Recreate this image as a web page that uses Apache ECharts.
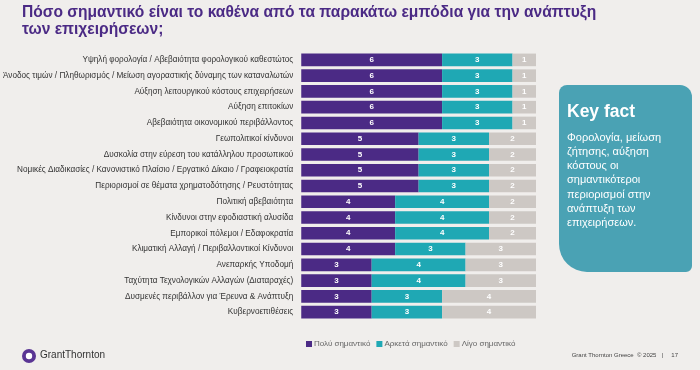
<!DOCTYPE html>
<html>
<head>
<meta charset="utf-8">
<script src="https://cdn.jsdelivr.net/npm/echarts@6/dist/echarts.min.js"></script>
<style>
html,body{margin:0;padding:0;background:#f0eeec;}
#c{width:700px;height:370px;}
</style>
</head>
<body>
<div id="c"></div>
<script>
var categories = [
  "Υψηλή φορολογία / Αβεβαιότητα φορολογικού καθεστώτος",
  "Άνοδος τιμών / Πληθωρισμός / Μείωση αγοραστικής δύναμης των καταναλωτών",
  "Αύξηση λειτουργικού κόστους επιχειρήσεων",
  "Αύξηση επιτοκίων",
  "Αβεβαιότητα οικονομικού περιβάλλοντος",
  "Γεωπολιτικοί κίνδυνοι",
  "Δυσκολία στην εύρεση του κατάλληλου προσωπικού",
  "Νομικές Διαδικασίες / Κανονιστικό Πλαίσιο / Εργατικό Δίκαιο / Γραφειοκρατία",
  "Περιορισμοί σε θέματα χρηματοδότησης / Ρευστότητας",
  "Πολιτική αβεβαιότητα",
  "Κίνδυνοι στην εφοδιαστική αλυσίδα",
  "Εμπορικοί πόλεμοι / Εδαφοκρατία",
  "Κλιματική Αλλαγή / Περιβαλλοντικοί Κίνδυνοι",
  "Ανεπαρκής Υποδομή",
  "Ταχύτητα Τεχνολογικών Αλλαγών (Διαταραχές)",
  "Δυσμενές περιβάλλον για Έρευνα & Ανάπτυξη",
  "Κυβερνοεπιθέσεις"
];
var veryImportant   = [6,6,6,6,6,5,5,5,5,4,4,4,4,3,3,3,3];
var fairlyImportant = [3,3,3,3,3,3,3,3,3,4,4,4,3,4,4,3,3];
var littleImportant = [1,1,1,1,1,2,2,2,2,2,2,2,3,3,3,4,4];
var seriesNames = ["Πολύ σημαντικό","Αρκετά σημαντικό","Λίγο σημαντικό"];
var titleLines = ["Πόσο σημαντικό είναι το καθένα από τα παρακάτω εμπόδια για την ανάπτυξη","των επιχειρήσεων;"];
var keyFactTitle = "Key fact";
var keyFactLines = ["Φορολογία, μείωση","ζήτησης, αύξηση","κόστους οι","σημαντικότεροι","περιορισμοί στην","ανάπτυξη των","επιχειρήσεων."];
var footerText = "Grant Thornton Greece  © 2025   |     17";

var colors = ["#4b2a85","#1fa8b4","#cdc8c4"];
var chart = echarts.init(document.getElementById('c'), null, {renderer:'canvas'});

function mkSeries(name, data, color){
  return {
    name:name, type:'bar', stack:'s', data:data, barCategoryGap:'20%',
    itemStyle:{color:color},
    label:{show:true, position:'inside', color:'#ffffff', fontSize:8, fontWeight:'bold', fontFamily:'Liberation Sans'},
    emphasis:{disabled:true}
  };
}

var graphics = [];
titleLines.forEach(function(t,i){
  graphics.push({type:'text', left:22, top:5+i*16.5, style:{text:t, fill:'#4b2a85', font:'bold 15.6px "Liberation Sans"'}});
});
graphics.push({type:'rect', shape:{x:559,y:85,width:133,height:187,r:[8,12,6,28]}, style:{fill:'#4aa2b4'}});
graphics.push({type:'text', left:567, top:103, style:{text:keyFactTitle, fill:'#ffffff', font:'bold 17.5px "Liberation Sans"'}});
keyFactLines.forEach(function(t,i){
  graphics.push({type:'text', left:567, top:132+i*14.3, style:{text:t, fill:'#ffffff', font:'11px "Liberation Sans"'}});
});
graphics.push({type:'text', right:22, top:352, style:{text:footerText, fill:'#444444', font:'6px "Liberation Sans"'}});
graphics.push({type:'circle', shape:{cx:29,cy:356,r:7}, style:{fill:'#5a3594'}});
graphics.push({type:'circle', shape:{cx:29,cy:356,r:3.2}, style:{fill:'#ffffff'}});
graphics.push({type:'text', left:40, top:350, style:{text:'GrantThornton', fill:'#333333', font:'10px "Liberation Sans"'}});

chart.setOption({
  backgroundColor:'#f0eeec',
  animation:false,
  color:colors,
  grid:{left:301, top:52, width:235, height:268, containLabel:false},
  legend:{
    data:seriesNames, left:301, top:335, icon:'rect', itemWidth:6, itemHeight:6, itemGap:6,
    textStyle:{fontSize:8, color:'#666666', fontFamily:'Liberation Sans', padding:[0,0,0,-3]}
  },
  xAxis:{type:'value', min:0, max:10, show:false},
  yAxis:{
    type:'category', data:categories, inverse:true,
    axisLine:{show:false}, axisTick:{show:false}, splitLine:{show:false},
    axisLabel:{fontSize:8.2, color:'#333333', margin:8, fontFamily:'Liberation Sans'}
  },
  series:[
    mkSeries(seriesNames[0], veryImportant, colors[0]),
    mkSeries(seriesNames[1], fairlyImportant, colors[1]),
    mkSeries(seriesNames[2], littleImportant, colors[2])
  ],
  graphic:graphics
});
</script>
</body>
</html>
